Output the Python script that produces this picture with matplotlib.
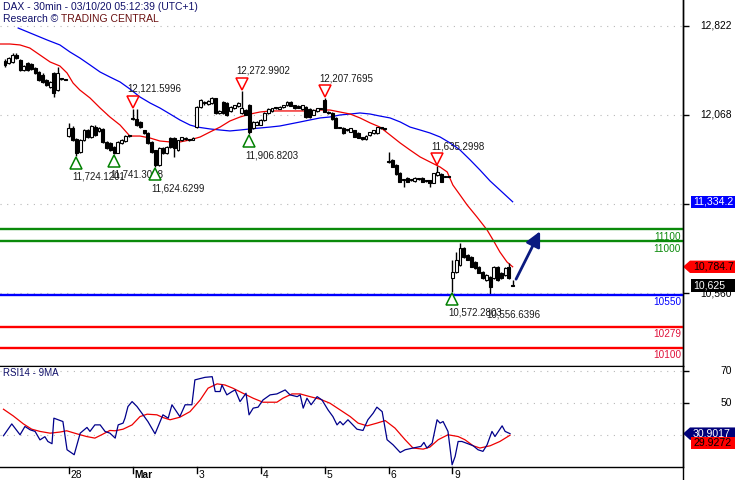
import matplotlib
matplotlib.use('Agg')
import matplotlib.pyplot as plt
from matplotlib.patches import Polygon

plt.rcParams['font.family'] = ['Liberation Sans', 'DejaVu Sans']

# ---------------- data ----------------
header_line1 = "DAX - 30min - 03/10/20 05:12:39 (UTC+1)"
header_research = "Research \u00a9"
header_brand = "TRADING CENTRAL"
rsi_title = "RSI14 - 9MA"

opens = [12525, 12505, 12515, 12575, 12535, 12450, 12505, 12500, 12465, 12430, 12405, 12360, 12305, 12420, 12280, 12375, 12370,
         11890, 11960, 11865, 11755, 11855, 11940, 11880, 11965, 11930, 11950, 11840, 11830, 11795, 11750, 11830, 11850, 11890,
         12040, 12035, 12010, 11940, 11915, 11840, 11770, 11645, 11790, 11745, 11875, 11875, 11770, 11855, 11865, 11860, 11860,
         11965, 12135, 12170, 12160, 12170, 12210, 12085, 12180, 12170, 12100, 12125, 12140, 12085, 12110, 12150, 11955, 11985,
         11985, 12025, 12085, 12100, 12125, 12120, 12135, 12150, 12180, 12150, 12145, 12115, 12135, 12120, 12070, 12100, 12120,
         12195, 12095, 12085, 12045, 11960, 11960, 11940, 11925, 11940, 11915, 11880, 11865, 11895, 11915, 11915, 11955, 11950,
         11680, 11690, 11645, 11580, 11520, 11535, 11520, 11510, 11527, 11535, 11510, 11518, 11495, 11560, 11570, 11545, 11545,
         10690, 10740, 10800, 10945, 10884, 10868, 10825, 10783, 10741, 10673, 10699, 10690, 10783, 10732, 10715, 10783, 10625]
highs = [12545, 12560, 12590, 12590, 12545, 12490, 12515, 12510, 12475, 12440, 12420, 12370, 12355, 12430, 12475, 12380, 12375,
         12000, 11975, 11875, 11865, 11950, 11950, 11985, 11980, 11965, 11960, 11845, 11840, 11805, 11850, 11865, 11900, 11895,
         12121.6, 12120, 12015, 11945, 11925, 11845, 11775, 11800, 11795, 11805, 11880, 11885, 11860, 11885, 11880, 11865, 11880,
         12145, 12200, 12185, 12195, 12220, 12215, 12110, 12185, 12180, 12140, 12155, 12175, 12273.0, 12120, 12160, 12015, 12015,
         12030, 12090, 12125, 12130, 12130, 12140, 12155, 12185, 12185, 12155, 12150, 12155, 12145, 12125, 12115, 12130, 12125,
         12207.8, 12100, 12090, 12050, 11965, 11965, 11945, 11960, 11945, 11920, 11885, 11895, 11925, 11945, 11970, 11960, 11955,
         11755, 11700, 11650, 11585, 11525, 11540, 11525, 11540, 11532, 11540, 11515, 11522, 11580, 11635.3, 11580, 11550, 11550,
         10840, 10910, 10985, 10950, 10890, 10875, 10830, 10790, 10750, 10720, 10705, 10790, 10795, 10740, 10780, 10817, 10670]
lows = [12475, 12495, 12505, 12540, 12440, 12440, 12440, 12450, 12415, 12355, 12340, 12315, 12300, 12220, 12270, 12365, 12360,
        11880, 11850, 11724.1, 11745, 11845, 11875, 11870, 11890, 11920, 11835, 11780, 11765, 11741.3, 11745, 11820, 11840, 11880,
        12025, 11975, 11960, 11910, 11825, 11750, 11624.6, 11635, 11740, 11735, 11790, 11715, 11765, 11845, 11860, 11850, 11855,
        11955, 12130, 12155, 12150, 12165, 12080, 12075, 12080, 12060, 12090, 12120, 12135, 12080, 12065, 11906.8, 11950, 11980,
        11980, 12020, 12080, 12095, 12120, 12115, 12130, 12145, 12140, 12120, 12125, 12110, 12045, 12045, 12065, 12095, 12115,
        12090, 12080, 12025, 11955, 11955, 11910, 11935, 11920, 11880, 11870, 11860, 11860, 11890, 11910, 11910, 11950, 11945,
        11665, 11625, 11560, 11500, 11460, 11500, 11510, 11505, 11520, 11500, 11505, 11460, 11490, 11555, 11500, 11540, 11540,
        10572.3, 10735, 10790, 10860, 10840, 10780, 10770, 10730, 10685, 10665, 10556.6, 10680, 10665, 10685, 10705, 10680, 10620]
closes = [12490, 12550, 12575, 12550, 12450, 12480, 12450, 12455, 12425, 12365, 12345, 12320, 12345, 12255, 12420, 12370, 12365,
          11960, 11855, 11745, 11855, 11940, 11880, 11975, 11895, 11955, 11840, 11790, 11770, 11750, 11840, 11855, 11890, 11890,
          12030, 11985, 11970, 11915, 11830, 11755, 11645, 11790, 11745, 11795, 11795, 11785, 11855, 11880, 11875, 11860, 11870,
          12135, 12195, 12180, 12185, 12210, 12085, 12100, 12085, 12070, 12135, 12150, 12170, 12125, 12070, 11920, 12005, 12010,
          12025, 12085, 12120, 12125, 12125, 12135, 12150, 12180, 12145, 12125, 12130, 12150, 12050, 12050, 12110, 12125, 12120,
          12095, 12085, 12030, 11960, 11958, 11915, 11940, 11955, 11885, 11875, 11865, 11890, 11920, 11940, 11965, 11955, 11948,
          11670, 11630, 11565, 11505, 11518, 11505, 11518, 11535, 11527, 11505, 11510, 11495, 11578, 11585, 11505, 11544, 11544,
          10740, 10842, 10945, 10868, 10842, 10783, 10775, 10732, 10690, 10715, 10614, 10783, 10673, 10690, 10775, 10690, 10625]

# moving averages on price (read at bar positions)
ma_fast_x = [-1.3, 1.3, 4.0, 6.6, 9.3, 12.0, 14.6, 16.5, 18.1, 19.9, 22.6, 25.3, 27.9, 30.6, 33.2, 35.9, 38.6, 41.2, 43.9,
             46.5, 49.2, 51.9, 54.5, 57.2, 59.8, 62.5, 65.2, 67.8, 70.5, 73.1, 75.8, 78.5, 81.1, 83.8, 86.4, 89.1, 91.8,
             94.4, 97.1, 99.7, 102.4, 105.1, 107.7, 110.4, 113.0, 115.7, 117.6, 119.1, 121.0, 122.9, 125.5, 128.2, 129.8,
             131.6, 133.5, 135.0]
ma_fast = [12668, 12668, 12660, 12634, 12575, 12516, 12482, 12423, 12338, 12279, 12212, 12127, 12051, 11983, 11890, 11890,
           11873, 11848, 11840, 11840, 11857, 11882, 11924, 11966, 12017, 12051, 12076, 12093, 12102, 12102, 12102, 12102,
           12102, 12110, 12110, 12093, 12076, 12043, 12001, 11966, 11899, 11831, 11772, 11713, 11671, 11628, 11586, 11476,
           11392, 11307, 11206, 11096, 11011, 10910, 10825, 10784.7]
ma_slow_x = [3.5, 11.2, 14.6, 17.3, 19.9, 22.6, 25.3, 27.9, 30.6, 33.2, 35.9, 38.6, 41.2, 43.9, 46.5, 49.2, 51.1, 54.5,
             57.2, 59.8, 62.5, 65.2, 67.8, 70.5, 73.1, 75.8, 78.5, 81.1, 83.8, 86.4, 89.1, 91.8, 94.4, 97.1, 99.7, 102.4,
             105.1, 107.7, 110.4, 113.0, 115.7, 118.4, 121.0, 123.7, 126.3, 129.0, 131.6, 135.0]
ma_slow = [12803, 12702, 12660, 12600, 12550, 12491, 12431, 12389, 12347, 12288, 12220, 12169, 12127, 12076, 12026, 11983,
           11966, 11950, 11941, 11933, 11941, 11950, 11958, 11966, 11975, 11992, 12009, 12026, 12043, 12051, 12068, 12076,
           12085, 12076, 12059, 12043, 12009, 11966, 11941, 11916, 11882, 11831, 11772, 11688, 11603, 11510, 11434, 11334.2]

rsi_x = [-0.4, 1.8, 4.0, 5.3, 6.7, 8.0, 9.3, 10.6, 11.4, 12.5, 13.0, 15.4, 16.5, 18.4, 20.0, 21.8, 22.6, 23.9, 25.3, 26.6,
         27.9, 29.3, 30.1, 31.4, 31.9, 32.7, 33.8, 35.1, 36.4, 38.0, 39.9, 42.0, 43.4, 44.4, 46.5, 47.9, 49.7, 50.5, 53.2,
         55.1, 55.9, 57.2, 57.7, 59.0, 60.4, 61.2, 62.5, 64.1, 64.9, 66.0, 67.3, 68.6, 70.5, 72.3, 74.5, 75.8, 77.7, 78.5,
         79.3, 80.3, 81.4, 83.0, 84.3, 85.9, 87.2, 88.3, 89.1, 89.9, 91.2, 93.6, 95.2, 96.5, 97.9, 98.9, 100.3, 101.6, 103.2,
         105.1, 106.4, 108.5, 110.6, 111.4, 112.2, 113.6, 114.9, 115.7, 116.5, 117.8, 118.9, 119.7, 120.5, 121.5, 123.1,
         124.5, 125.8, 127.1, 128.2, 129.5, 130.3, 132.2, 133.0, 134.3]
rsi = [29.6, 37.0, 30.2, 35.4, 33.3, 32.3, 27.0, 29.0, 26.0, 24.6, 40.6, 38.5, 20.8, 17.7, 31.2, 34.8, 32.3, 36.4, 36.4, 32.3,
       31.2, 28.1, 36.4, 37.5, 40.6, 47.9, 51.0, 47.9, 43.7, 38.5, 30.8, 42.7, 40.6, 49.0, 41.6, 49.0, 49.0, 64.6, 66.2,
       66.6, 57.3, 57.3, 61.4, 55.2, 57.3, 58.3, 51.0, 56.2, 42.7, 46.9, 47.5, 52.0, 55.2, 55.8, 58.3, 55.2, 54.1, 55.2,
       46.9, 53.1, 49.0, 54.1, 52.0, 45.8, 41.6, 36.4, 38.5, 36.4, 39.6, 33.7, 32.9, 39.6, 43.7, 47.5, 44.7, 27.1, 23.9,
       19.1, 20.8, 21.9, 22.9, 25.4, 21.9, 25.0, 39.6, 37.5, 38.5, 32.3, 11.4, 16.6, 26.0, 26.0, 24.6, 23.3, 20.8, 19.8,
       23.9, 32.3, 29.1, 35.8, 32.3, 30.9017]
rsi_ma_x = [-0.4, 2.2, 4.9, 7.1, 9.3, 12.0, 14.6, 16.4, 19.1, 21.7, 23.9, 25.7, 27.9, 29.3, 31.4, 33.8, 35.9, 37.8, 40.4,
            42.0, 43.9, 46.5, 49.2, 51.9, 54.0, 56.4, 58.5, 60.6, 63.3, 66.0, 68.6, 72.3, 73.9, 76.3, 78.5, 81.1, 83.8,
            86.4, 89.1, 91.8, 93.9, 96.3, 98.9, 101.1, 103.7, 106.4, 108.5, 111.2, 113.0, 115.2, 117.8, 120.5, 122.3,
            124.5, 126.3, 129.0, 131.6, 134.3]
rsi_ma = [46.2, 42.0, 37.0, 33.7, 32.3, 31.2, 31.9, 32.7, 30.8, 29.1, 28.1, 30.2, 32.9, 32.7, 33.7, 36.4, 41.6, 43.1, 42.7,
          41.0, 39.6, 41.2, 44.7, 52.0, 59.4, 62.1, 61.4, 59.4, 56.2, 53.1, 50.6, 50.6, 53.1, 55.8, 55.8, 54.1, 52.5, 50.0,
          45.8, 41.6, 37.5, 35.8, 37.5, 39.1, 34.4, 27.1, 21.9, 21.2, 22.5, 27.1, 30.2, 29.1, 27.1, 23.3, 21.9, 23.3, 26.0,
          29.9272]

levels = [11100, 11000, 10550, 10279, 10100]
level_colors = ['#0a8a0a', '#0a8a0a', '#0000ff', '#ff0000', '#ff0000']
level_text_colors = ['#0a8a0a', '#0a8a0a', '#0000ff', '#e0103a', '#e0103a']

peak_bars = [34, 63, 85, 115]
peak_values = [12121.5996, 12272.9902, 12207.7695, 11635.2998]
trough_bars = [19, 29, 40, 65, 119, 129]
trough_values = [11724.1201, 11741.3098, 11624.6299, 11906.8203, 10572.2803, 10556.6396]
trough_show_marker = [True, True, True, True, True, False]

day_labels = ['28', 'Mar', '3', '4', '5', '6', '9']
day_start_bars = [17, 34, 51, 68, 85, 102, 119]

price_ticks = [12822, 12068, 11314, 10560]
price_tick_labels = ['12,822', '12,068', '', '10,560']
rsi_ticks = [70, 50]
rsi_grid = [70, 50, 30]

last_close_label = '10,625'
fast_ma_label = '10,784.7'
slow_ma_label = '11,334.2'
rsi_label = '30.9017'
rsi_ma_label = '29.9272'

arrow_start = (135.9, 10680)
arrow_end = (142.3, 11085)

# ---------------- layout ----------------
W, H = 735, 480
fig = plt.figure(figsize=(W / 100, H / 100), dpi=100)
fig.patch.set_facecolor('white')
AX_R = 683
ax = fig.add_axes([0, (H - 366) / H, AX_R / W, 366 / H])
ax2 = fig.add_axes([0, (H - 467) / H, AX_R / W, 101 / H], sharex=ax)

XMIN, XMAX = -1.33, 180.3
ax.set_xlim(XMIN, XMAX)
ax.set_ylim(9946, 13040)
ax2.set_ylim(10, 73.3)
PPX = (13040 - 9946) / 366.0   # price units per pixel
RPX = (73.3 - 10) / 101.0

for a in (ax, ax2):
    a.set_facecolor('white')
    a.spines['left'].set_visible(False)
    a.spines['top'].set_visible(False)
    for s in ('right', 'bottom'):
        a.spines[s].set_color('black')
        a.spines[s].set_linewidth(1.0)
    a.tick_params(left=False, labelleft=False, right=True, labelright=False,
                  bottom=False, labelbottom=False, direction='out', length=4, width=1)
ax2.spines['top'].set_visible(True)
ax2.spines['top'].set_color('black')

# grids
dot = (0, (1, 5))
for v in price_ticks:
    ax.axhline(v, color='#b8b8b8', lw=0.8, ls=dot, zorder=0)
for v in rsi_grid:
    ax2.axhline(v, color='#b8b8b8', lw=0.8, ls=dot, zorder=0)

ax.set_yticks(price_ticks)
ax2.set_yticks(rsi_ticks)

ytr = ax.get_yaxis_transform()
ytr2 = ax2.get_yaxis_transform()
fx = lambda px: px / AX_R
for v, t in zip(price_ticks, price_tick_labels):
    if t:
        ax.text(fx(732), v, t, transform=ytr, ha='right', va='center', fontsize=7.4,
                color='black', clip_on=False, zorder=3)
for v in rsi_ticks:
    ax2.text(fx(732), v, str(v), transform=ytr2, ha='right', va='center', fontsize=7.4,
             color='black', clip_on=False, zorder=3)

# levels
for v, c, tc in zip(levels, level_colors, level_text_colors):
    ax.axhline(v, color=c, lw=1.7, zorder=4)
    ax.text(fx(681), v - 2.5 * PPX, str(v), transform=ytr, ha='right', va='top',
            fontsize=7.2, color=tc, zorder=5)

# moving averages
ax.plot(ma_slow_x, ma_slow, color='#0000ee', lw=0.9, zorder=2)
ax.plot(ma_fast_x, ma_fast, color='#ee0000', lw=0.9, zorder=2)

# candles
bw = 0.78
for i, (o, h, l, c) in enumerate(zip(opens, highs, lows, closes)):
    ax.plot([i, i], [l, h], color='black', lw=1.0, zorder=3, solid_capstyle='butt')
    lo, hi = min(o, c), max(o, c)
    hgt = max(hi - lo, 0.9 * PPX)
    up = c > o
    ax.bar(i, hgt, bottom=lo, width=bw, color='white' if up else 'black',
           edgecolor='black', linewidth=0.8, zorder=3.5)

# peak / trough annotations
for b, v in zip(peak_bars, peak_values):
    ax.plot([b], [v + 7 * PPX], marker='v', ms=8, mfc='white', mec='#ff0000',
            mew=1.1, zorder=6)
    ax.text(b - 1.5, v + 20 * PPX, f"{v:,.4f}", ha='left', va='center',
            fontsize=7.0, color='#1a1a1a', zorder=6)
for b, v, show in zip(trough_bars, trough_values, trough_show_marker):
    if show:
        ax.plot([b], [v - 7 * PPX], marker='^', ms=8, mfc='white', mec='#008000',
                mew=1.1, zorder=6)
    ax.text(b - 1.0, v - 21 * PPX, f"{v:,.4f}", ha='left', va='center',
            fontsize=7.0, color='#1a1a1a', zorder=6)

# forecast arrow
ax.annotate('', xy=arrow_end, xytext=arrow_start,
            arrowprops=dict(arrowstyle='-|>,head_length=0.9,head_width=0.45',
                            color='#0a1a80', lw=2.0, shrinkA=0, shrinkB=0), zorder=6)

# RSI
ax2.plot(rsi_x, rsi, color='#00008b', lw=0.9, zorder=3)
ax2.plot(rsi_ma_x, rsi_ma, color='#ee0000', lw=0.9, zorder=2)


def value_box(a, tr, v, text, face, tcolor, ppx, arrow=False):
    h = 6.2 * ppx
    if arrow:
        pts = [(fx(683), v), (fx(690), v + h), (fx(740), v + h), (fx(740), v - h), (fx(690), v - h)]
    else:
        pts = [(fx(691), v + h), (fx(740), v + h), (fx(740), v - h), (fx(691), v - h)]
    a.add_patch(Polygon(pts, closed=True, transform=tr, facecolor=face, edgecolor='none',
                        clip_on=False, zorder=8))
    a.text(fx(693), v, text, transform=tr, ha='left', va='center', fontsize=7.6,
           color=tcolor, clip_on=False, zorder=9)


value_box(ax, ytr, 11334.2, slow_ma_label, '#0000ff', 'white', PPX)
value_box(ax, ytr, 10784.7, fast_ma_label, '#ff0000', 'black', PPX, arrow=True)
value_box(ax, ytr, 10625, last_close_label, 'black', 'white', PPX)
value_box(ax2, ytr2, 30.9017, rsi_label, '#00007a', 'white', RPX, arrow=True)
value_box(ax2, ytr2, 29.9272 - 8 * RPX, rsi_ma_label, '#ff0000', 'black', RPX)

# x axis day ticks and labels
xtr = ax2.get_xaxis_transform()
for b, t in zip(day_start_bars, day_labels):
    ax2.plot([b, b], [0, -6 / 101], transform=xtr, color='black', lw=1, clip_on=False)
    ax2.text(b + 0.5, -7.5 / 101, t, transform=xtr, ha='left', va='center', fontsize=7.4,
             color='black', fontweight='bold' if t == 'Mar' else 'normal', clip_on=False)

# right axis line continues to bottom of figure
fig.add_artist(plt.Line2D([AX_R / W, AX_R / W], [0, 1], transform=fig.transFigure,
                          color='black', lw=1))

# headers
fig.text(3 / W, 1 - 7 / H, header_line1, ha='left', va='center', fontsize=7.5, color='#10106a')
t1 = fig.text(3 / W, 1 - 19 / H, header_research, ha='left', va='center', fontsize=7.5, color='#10106a')
fig.canvas.draw()
bb = t1.get_window_extent()
fig.text(bb.x1 / W + 3 / W, 1 - 19 / H, header_brand, ha='left', va='center', fontsize=7.5,
         color='#6a1010')
ax2.text(3 / AX_R, 1 - 7 / 101, rsi_title, transform=ax2.transAxes, ha='left', va='center',
         fontsize=7.0, color='#10106a')

fig.savefig('out.png', dpi=100, facecolor='white')
